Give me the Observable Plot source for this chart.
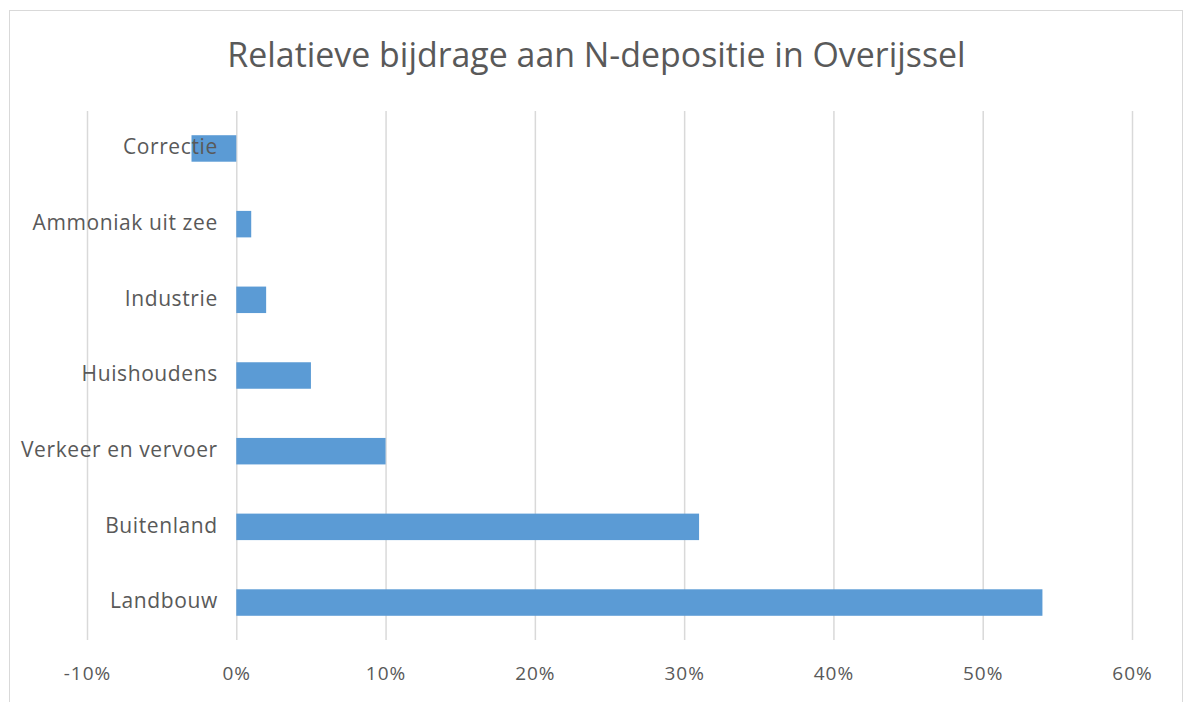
<!DOCTYPE html>
<html>
<head>
<meta charset="utf-8">
<script src="https://cdn.jsdelivr.net/npm/d3@7"></script>
<script src="https://cdn.jsdelivr.net/npm/@observablehq/plot@0.6"></script>
<style>
  html, body { margin: 0; padding: 0; background: #fff; }
  body { width: 1183px; height: 702px; position: relative; overflow: hidden; font-family: "Open Sans", sans-serif; }
  #frame { position: absolute; left: 9px; top: 10px; width: 1174px; height: 700px; border: 1.5px solid #d9d9d9; box-sizing: border-box; }
  #title { position: absolute; left: 0; top: 32px; width: 1193px; text-align: center; font-size: 33.9px; color: #595959; white-space: nowrap; line-height: 1.3; }
  #chart { position: absolute; left: 0; top: 91px; }
</style>
</head>
<body>
<div id="frame"></div>
<div id="title">Relatieve bijdrage aan N-depositie in Overijssel</div>
<div id="chart"></div>
<script>
const categories = ["Correctie", "Ammoniak uit zee", "Industrie", "Huishoudens", "Verkeer en vervoer", "Buitenland", "Landbouw"];
const values = [-3, 1, 2, 5, 10, 31, 54];
const xTicks = [-10, 0, 10, 20, 30, 40, 50, 60];

const data = categories.map((c, i) => ({category: c, value: values[i]}));

const chart = Plot.plot({
  width: 1183,
  height: 611,
  marginLeft: 87,
  marginRight: 51,
  marginTop: 20,
  marginBottom: 62,
  style: {fontFamily: "Open Sans, sans-serif", color: "#595959", background: "transparent"},
  x: {domain: [-10, 60], ticks: xTicks, tickFormat: d => d + "%", label: null},
  y: {domain: categories, paddingInner: 0.65, paddingOuter: 0.32, round: false, axis: null},
  marks: [
    Plot.gridX(xTicks, {stroke: "#d9d9d9", strokeOpacity: 1, strokeWidth: 1.5}),
    Plot.axisX(xTicks, {tickSize: 0, tickPadding: 26, fontSize: 19, tickFormat: d => d + "%", fill: "#595959", label: null}),
    Plot.barX(data, {x: "value", y: "category", fill: "#5b9bd5"}),
    Plot.text(data, {x: () => 0, y: "category", text: "category", textAnchor: "end", dx: -19, dy: -1.5, fontSize: 21, fill: "#595959"})
  ]
});
d3.select(chart).selectAll("[aria-label='x-axis tick label'] text").style("letter-spacing", "1px");
d3.select(chart).selectAll("[aria-label='text'] text").style("letter-spacing", "0.6px");
document.getElementById("chart").appendChild(chart);
</script>
</body>
</html>
